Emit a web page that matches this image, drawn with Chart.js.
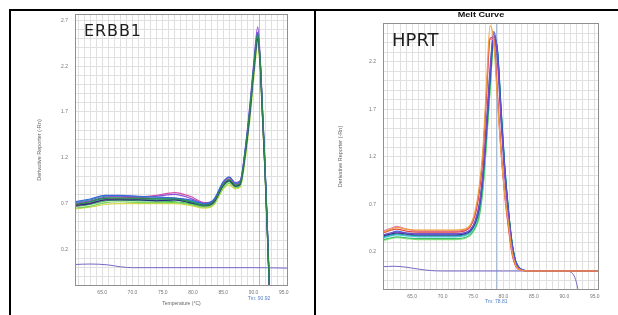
<!DOCTYPE html>
<html lang="en">
<head>
<meta charset="UTF-8">
<title>ERBB1 / HPRT melt curves</title>
<script src="https://cdn.jsdelivr.net/npm/chart.js"></script>
<style>
  body { margin: 0; padding: 0; background: #fff; width: 618px; height: 315px; overflow: hidden; position: relative; }
  canvas { position: absolute; top: 0; }
  .rule { position: absolute; background: #000; }
  .gene { position: absolute; font-family: 'DejaVu Sans', sans-serif; color: #1e1e1e; line-height: 1; white-space: nowrap; }
  #meltTitle { position: absolute; left: 431px; top: 11px; width: 100px; text-align: center; font: bold 7px/7px 'Liberation Sans', Arial, sans-serif; color: #111; transform: scaleX(1.3); }
</style>
</head>
<body>
<canvas id="erbb1" width="314" height="315" style="left:0"></canvas>
<canvas id="hprt" width="302" height="315" style="left:316px"></canvas>

<div class="rule" style="left:9px;top:9px;width:609px;height:2px"></div>
<div class="rule" style="left:9px;top:9px;width:2px;height:306px"></div>
<div class="rule" style="left:314px;top:9px;width:2px;height:306px"></div>

<div class="gene" style="left:84px;top:23px;font-size:16px;letter-spacing:0.9px">ERBB1</div>
<div class="gene" style="left:392px;top:31px;font-size:18px">HPRT</div>
<div id="meltTitle">Melt Curve</div>

<script>
// ---- ERBB1 (left panel) ----
const erbb1Temps = [60.5, 63, 65.5, 68, 71, 74, 77, 79.5, 82, 83.5, 85, 86, 87, 87.8, 88.6, 89.4, 90.1, 90.7, 91.1, 91.5, 91.9, 92.3, 92.7, 93.3, 95.7];
const erbb1Wells = [
  [0.69, 0.72, 0.76, 0.76, 0.76, 0.75, 0.75, 0.72, 0.68, 0.73, 0.91, 0.96, 0.90, 0.92, 1.25, 1.72, 2.22, 2.55, 2.26, 1.68, 1.10, 0.40, -0.35, -1.1, -1.4],
  [0.72, 0.75, 0.79, 0.79, 0.78, 0.77, 0.76, 0.74, 0.70, 0.75, 0.94, 0.99, 0.92, 0.94, 1.27, 1.74, 2.24, 2.57, 2.27, 1.70, 1.12, 0.42, -0.33, -1.1, -1.4],
  [0.68, 0.70, 0.74, 0.74, 0.74, 0.73, 0.74, 0.71, 0.68, 0.72, 0.90, 0.95, 0.89, 0.91, 1.22, 1.68, 2.18, 2.50, 2.22, 1.64, 1.06, 0.37, -0.37, -1.1, -1.4],
  [0.70, 0.73, 0.77, 0.78, 0.77, 0.78, 0.80, 0.76, 0.70, 0.74, 0.93, 0.99, 0.93, 0.95, 1.28, 1.78, 2.28, 2.63, 2.30, 1.72, 1.12, 0.41, -0.34, -1.1, -1.4],
  [0.67, 0.70, 0.74, 0.76, 0.77, 0.79, 0.82, 0.78, 0.71, 0.74, 0.92, 0.97, 0.91, 0.93, 1.25, 1.72, 2.21, 2.54, 2.25, 1.67, 1.09, 0.39, -0.35, -1.1, -1.4],
  [0.71, 0.74, 0.78, 0.78, 0.77, 0.76, 0.76, 0.73, 0.69, 0.74, 0.93, 0.98, 0.92, 0.94, 1.26, 1.73, 2.23, 2.56, 2.26, 1.69, 1.11, 0.41, -0.34, -1.1, -1.4],
  [0.65, 0.67, 0.71, 0.72, 0.71, 0.71, 0.71, 0.69, 0.66, 0.70, 0.87, 0.92, 0.87, 0.89, 1.19, 1.64, 2.13, 2.46, 2.18, 1.61, 1.04, 0.35, -0.38, -1.1, -1.4],
  [0.64, 0.66, 0.69, 0.70, 0.70, 0.70, 0.70, 0.68, 0.65, 0.69, 0.86, 0.90, 0.86, 0.88, 1.17, 1.62, 2.11, 2.45, 2.17, 1.60, 1.03, 0.34, -0.39, -1.1, -1.4],
  [0.70, 0.72, 0.75, 0.76, 0.76, 0.75, 0.75, 0.72, 0.68, 0.73, 0.92, 0.96, 0.90, 0.92, 1.23, 1.70, 2.19, 2.51, 2.23, 1.65, 1.07, 0.38, -0.36, -1.1, -1.4],
  [0.69, 0.71, 0.75, 0.75, 0.75, 0.74, 0.74, 0.71, 0.67, 0.72, 0.90, 0.95, 0.89, 0.91, 1.22, 1.69, 2.18, 2.49, 2.22, 1.64, 1.06, 0.37, -0.37, -1.1, -1.4],
  [0.67, 0.69, 0.73, 0.74, 0.73, 0.73, 0.72, 0.70, 0.67, 0.71, 0.89, 0.94, 0.88, 0.90, 1.21, 1.67, 2.16, 2.48, 2.20, 1.63, 1.05, 0.36, -0.37, -1.1, -1.4],
  [0.69, 0.72, 0.76, 0.76, 0.75, 0.75, 0.75, 0.72, 0.68, 0.73, 0.91, 0.96, 0.90, 0.92, 1.24, 1.70, 2.20, 2.52, 2.24, 1.66, 1.08, 0.38, -0.36, -1.1, -1.4]
];
const erbb1NtcTemps = [60.5, 63, 66, 68, 70, 80, 90, 95.7];
const erbb1Ntc = [0.035, 0.04, 0.03, 0.01, 0.0, 0.0, 0.0, -0.005];
const erbb1Tm = 90.92;
const erbb1YTicks = [0.2, 0.7, 1.2, 1.7, 2.2, 2.7];

// ---- HPRT (right panel) ----
const hprtTemps = [60.2, 61.5, 62.5, 64, 66, 68, 70, 72, 73.5, 74.5, 75.3, 76, 76.6, 77.2, 77.8, 78.4, 79, 79.6, 80.2, 80.8, 81.4, 82, 82.8, 84, 87, 90, 93, 95.7];
const hprtWells = [
  [0.41, 0.44, 0.46, 0.44, 0.43, 0.43, 0.43, 0.43, 0.44, 0.48, 0.62, 0.88, 1.26, 1.95, 2.58, 2.42, 1.80, 1.24, 0.82, 0.50, 0.20, 0.06, 0.01, 0.0, 0.0, 0.0, 0.0, 0.0],
  [0.40, 0.43, 0.44, 0.42, 0.41, 0.41, 0.41, 0.41, 0.42, 0.46, 0.58, 0.82, 1.18, 1.84, 2.45, 2.46, 1.86, 1.26, 0.80, 0.46, 0.18, 0.05, 0.01, 0.0, 0.0, 0.0, 0.0, 0.0],
  [0.42, 0.45, 0.47, 0.44, 0.42, 0.42, 0.42, 0.42, 0.43, 0.47, 0.59, 0.84, 1.20, 1.86, 2.44, 2.43, 1.88, 1.30, 0.84, 0.50, 0.21, 0.06, 0.01, 0.0, 0.0, 0.0, 0.0, 0.0],
  [0.38, 0.40, 0.41, 0.40, 0.39, 0.39, 0.39, 0.39, 0.40, 0.43, 0.52, 0.70, 1.02, 1.56, 2.14, 2.50, 2.22, 1.56, 1.00, 0.58, 0.25, 0.08, 0.02, 0.0, 0.0, 0.0, 0.0, 0.0],
  [0.38, 0.40, 0.42, 0.40, 0.39, 0.39, 0.39, 0.39, 0.40, 0.43, 0.51, 0.68, 1.00, 1.52, 2.08, 2.52, 2.30, 1.64, 1.06, 0.62, 0.28, 0.10, 0.02, 0.0, 0.0, 0.0, 0.0, 0.0],
  [0.37, 0.39, 0.40, 0.39, 0.38, 0.38, 0.38, 0.38, 0.39, 0.42, 0.50, 0.66, 0.97, 1.48, 2.04, 2.47, 2.32, 1.68, 1.08, 0.64, 0.29, 0.10, 0.02, 0.0, 0.0, 0.0, 0.0, 0.0],
  [0.36, 0.38, 0.39, 0.38, 0.37, 0.37, 0.37, 0.37, 0.38, 0.41, 0.49, 0.64, 0.94, 1.45, 2.00, 2.44, 2.34, 1.72, 1.12, 0.66, 0.31, 0.11, 0.02, 0.0, 0.0, 0.0, 0.0, 0.0],
  [0.33, 0.35, 0.36, 0.35, 0.34, 0.34, 0.34, 0.34, 0.35, 0.38, 0.45, 0.58, 0.86, 1.36, 1.92, 2.40, 2.30, 1.70, 1.10, 0.64, 0.30, 0.10, 0.02, 0.0, 0.0, 0.0, 0.0, 0.0],
  [0.32, 0.34, 0.35, 0.34, 0.33, 0.33, 0.33, 0.33, 0.34, 0.37, 0.44, 0.56, 0.84, 1.33, 1.90, 2.38, 2.28, 1.68, 1.08, 0.62, 0.29, 0.10, 0.02, 0.0, 0.0, 0.0, 0.0, 0.0],
  [0.35, 0.37, 0.38, 0.37, 0.36, 0.36, 0.36, 0.36, 0.37, 0.40, 0.48, 0.62, 0.92, 1.42, 1.98, 2.44, 2.33, 1.70, 1.10, 0.65, 0.30, 0.10, 0.02, 0.0, 0.0, 0.0, 0.0, 0.0]
];
const hprtNtcTemps = [60.2, 62, 64, 66, 68, 70, 80, 90, 91, 91.6, 92.1, 92.5, 93, 95.7];
const hprtNtc = [0.045, 0.05, 0.04, 0.02, 0.005, 0.0, 0.0, 0.0, -0.01, -0.05, -0.15, -0.3, -0.55, -1.2];
const hprtTm = 78.81;
const hprtYTicks = [0.2, 0.7, 1.2, 1.7, 2.2];

const xTickLabels = [65, 70, 75, 80, 85, 90, 95];

const erbb1Colors = ['#2a8a45', '#3a68d8', '#22307a', '#8c52d6', '#d050a8', '#2aa39a', '#7ed45c', '#d6d84a', '#3cc3d6', '#808080', '#2fbf4a', '#1f7a40'];
const hprtColors = ['#f0a040', '#e04848', '#e878b8', '#7a48c8', '#4668e0', '#24308a', '#2aa0a8', '#3cc070', '#92e27a', '#48c8e0'];
const ntcColor = '#7468c8';

const tickFont = { family: "'Liberation Sans', Arial, sans-serif", size: 5 };
const has = (list, v) => list.some(t => Math.abs(t - v) < 1e-6);

const meltDecor = {
  id: 'meltDecor',
  beforeDatasetsDraw(chart, args, opts) {
    const { ctx, chartArea: a, scales: { x } } = chart;
    const px = Math.round(x.getPixelForValue(opts.tm)) + 0.5;
    ctx.save();
    ctx.strokeStyle = '#a9bcd8';
    ctx.lineWidth = 1;
    ctx.beginPath();
    ctx.moveTo(px, a.top);
    ctx.lineTo(px, a.bottom);
    ctx.stroke();
    ctx.restore();
  },
  afterDraw(chart, args, opts) {
    const { ctx, chartArea: a, scales: { x } } = chart;
    ctx.save();
    ctx.strokeStyle = '#8f8f8f';
    ctx.lineWidth = 1;
    ctx.strokeRect(Math.round(a.left) + 0.5, Math.round(a.top) + 0.5,
      Math.round(a.right - a.left) - 1, Math.round(a.bottom - a.top) - 1);
    ctx.fillStyle = '#4f7fc9';
    ctx.font = "5px 'Liberation Sans', Arial, sans-serif";
    ctx.textAlign = 'center';
    ctx.textBaseline = 'middle';
    ctx.fillText('Tm: ' + opts.tm.toFixed(2), x.getPixelForValue(opts.tm), a.bottom + opts.gap);
    ctx.restore();
  }
};

function meltChart(id, cfg) {
  const xGrid = [];
  for (let t = 61; t <= 95; t++) xGrid.push(t);
  const yGrid = [];
  for (let i = -1; i <= Math.floor(cfg.yMax * 10); i++) yGrid.push(i / 10);

  const datasets = cfg.wells.map((vals, i) => ({
    data: cfg.temps.map((t, j) => ({ x: t, y: vals[j] })),
    borderColor: cfg.colors[i],
    borderWidth: 1.2,
    pointRadius: 0,
    cubicInterpolationMode: 'monotone',
    fill: false
  }));
  datasets.push({
    data: cfg.ntcTemps.map((t, j) => ({ x: t, y: cfg.ntc[j] })),
    borderColor: ntcColor,
    borderWidth: 1,
    pointRadius: 0,
    cubicInterpolationMode: 'monotone',
    fill: false
  });

  return new Chart(document.getElementById(id), {
    type: 'line',
    data: { datasets },
    options: {
      responsive: false,
      animation: false,
      devicePixelRatio: 1,
      layout: { padding: cfg.padding },
      plugins: {
        legend: { display: false },
        tooltip: { enabled: false },
        meltDecor: { tm: cfg.tm, gap: cfg.tmGap }
      },
      scales: {
        x: {
          type: 'linear',
          min: cfg.xMin,
          max: 95.7,
          afterFit: s => { s.height = cfg.xHeight; },
          afterBuildTicks: s => { s.ticks = xGrid.map(v => ({ value: v })); },
          grid: { color: '#e0e0e0', drawTicks: false },
          border: { display: false },
          ticks: {
            autoSkip: false, maxRotation: 0, padding: 4, color: '#777', font: tickFont,
            callback: v => has(xTickLabels, v) ? v.toFixed(1) : ''
          },
          title: {
            display: cfg.xTitle, text: 'Temperature (°C)', color: '#666',
            font: tickFont, padding: { top: 0, bottom: 8 }
          }
        },
        y: {
          type: 'linear',
          min: -0.2,
          max: cfg.yMax,
          afterFit: s => { s.width = cfg.yWidth; },
          afterBuildTicks: s => { s.ticks = yGrid.map(v => ({ value: v })); },
          grid: { color: '#e0e0e0', drawTicks: false },
          border: { display: false },
          ticks: {
            autoSkip: false, padding: 7, color: '#777', font: tickFont,
            callback: v => has(cfg.yTicks, v) ? v.toFixed(1) : ''
          },
          title: {
            display: true, text: 'Derivative Reporter (-Rn)', color: '#666',
            font: { family: tickFont.family, size: 5.5 }, padding: { top: cfg.yTitlePad, bottom: 0 }
          }
        }
      }
    },
    plugins: [meltDecor]
  });
}

meltChart('erbb1', {
  temps: erbb1Temps, wells: erbb1Wells, colors: erbb1Colors,
  ntcTemps: erbb1NtcTemps, ntc: erbb1Ntc, tm: erbb1Tm, yTicks: erbb1YTicks,
  xMin: 60.5, yMax: 2.77, padding: { top: 14, right: 26, left: 0, bottom: 0 },
  yWidth: 75, xHeight: 29, yTitlePad: 35.7, xTitle: true, tmGap: 13
});

meltChart('hprt', {
  temps: hprtTemps, wells: hprtWells, colors: hprtColors,
  ntcTemps: hprtNtcTemps, ntc: hprtNtc, tm: hprtTm, yTicks: hprtYTicks,
  xMin: 60.2, yMax: 2.61, padding: { top: 23, right: 19, left: 0, bottom: 0 },
  yWidth: 67, xHeight: 25, yTitlePad: 20.7, xTitle: false, tmGap: 12
});
</script>
</body>
</html>
